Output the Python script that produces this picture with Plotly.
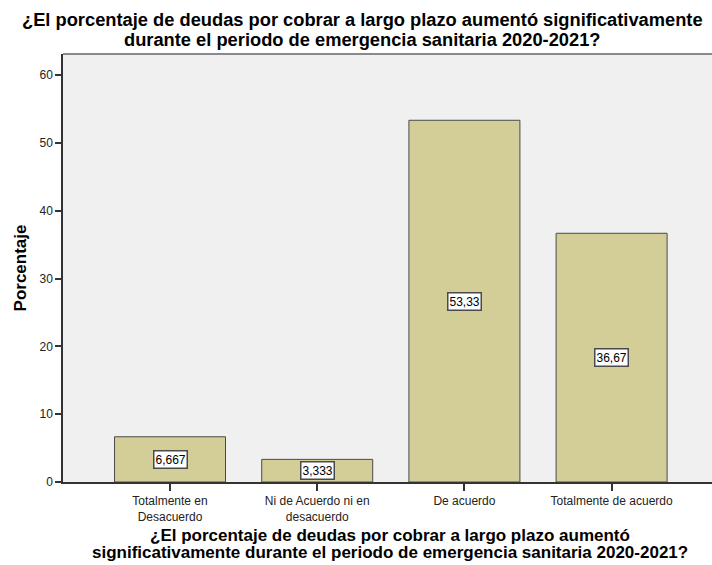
import plotly.graph_objects as go

categorias = ["Totalmente en<br>Desacuerdo", "Ni de Acuerdo ni en<br>desacuerdo",
              "De acuerdo", "Totalmente de acuerdo"]
porcentajes = [6.667, 3.333, 53.33, 36.67]
etiquetas = ["6,667", "3,333", "53,33", "36,67"]

titulo = ["¿El porcentaje de deudas por cobrar a largo plazo aumentó significativamente",
          "durante el periodo de emergencia sanitaria 2020-2021?"]
titulo_x = ["¿El porcentaje de deudas por cobrar a largo plazo aumentó",
            "significativamente durante el periodo de emergencia sanitaria 2020-2021?"]

W, H = 712, 565
M_L, M_R, M_T, M_B = 63, 0, 54, 83
alto_plot = H - M_T - M_B
ancho_plot = W - M_L - M_R

fig = go.Figure()
fig.add_trace(go.Bar(
    x=categorias,
    y=porcentajes,
    width=0.754,
    marker=dict(color='#D3CE97', line=dict(color='#4A4A4A', width=1)),
    hoverinfo='skip'
))

# etiquetas de valor en el centro de cada barra
for cat, v, txt in zip(categorias, porcentajes, etiquetas):
    fig.add_annotation(
        x=cat, y=v / 2, text=txt, showarrow=False,
        font=dict(family='Arial', size=12, color='#000'),
        bgcolor='white', bordercolor='#4A4A4A', borderwidth=1.5, borderpad=1
    )

def py(pix):
    # pixel vertical (desde arriba) -> coordenada paper
    return (H - M_B - pix) / alto_plot

def px(pix):
    return (pix - M_L) / ancho_plot

# título en dos líneas
for linea, ypix in zip(titulo, [20, 39.5]):
    fig.add_annotation(text='<b>' + linea + '</b>', xref='paper', yref='paper',
                       x=px(362), y=py(ypix), xanchor='center', yanchor='middle',
                       showarrow=False, font=dict(family='Arial', size=18.3, color='#000'))

# título del eje x en dos líneas
for linea, ypix in zip(titulo_x, [535, 552]):
    fig.add_annotation(text='<b>' + linea + '</b>', xref='paper', yref='paper',
                       x=px(390), y=py(ypix), xanchor='center', yanchor='middle',
                       showarrow=False, font=dict(family='Arial', size=17, color='#000'))

fig.update_layout(
    width=W, height=H,
    margin=dict(l=M_L, r=M_R, t=M_T, b=M_B),
    paper_bgcolor='white',
    plot_bgcolor='#F0F0F0',
    showlegend=False,
    font=dict(family='Arial', color='#222'),
    xaxis=dict(
        range=[-0.727, 3.682],
        showgrid=False, zeroline=False,
        ticks='outside', ticklen=7, tickcolor='#333', tickwidth=1.5,
        tickfont=dict(family='Arial', size=12, color='#222'),
        showline=True, linecolor='#333', linewidth=1.5,
    ),
    yaxis=dict(
        range=[0, 63.1],
        tickvals=[0, 10, 20, 30, 40, 50, 60],
        showgrid=False, zeroline=False,
        ticks='outside', ticklen=6, tickcolor='#333', tickwidth=1.5,
        tickfont=dict(family='Arial', size=12, color='#222'),
        showline=True, linecolor='#333', linewidth=1.5,
        title=dict(text='<b>Porcentaje</b>', standoff=9,
                   font=dict(family='Arial', size=17, color='#000'))
    )
)

# borde superior del área de trazado
fig.add_shape(type='line', xref='paper', yref='paper', x0=0, y0=1, x1=1, y1=1,
              line=dict(color='#8A8A8A', width=2))

fig.write_html("out.html", config={'displayModeBar': False},
               post_script="document.body.style.margin='0px';")
